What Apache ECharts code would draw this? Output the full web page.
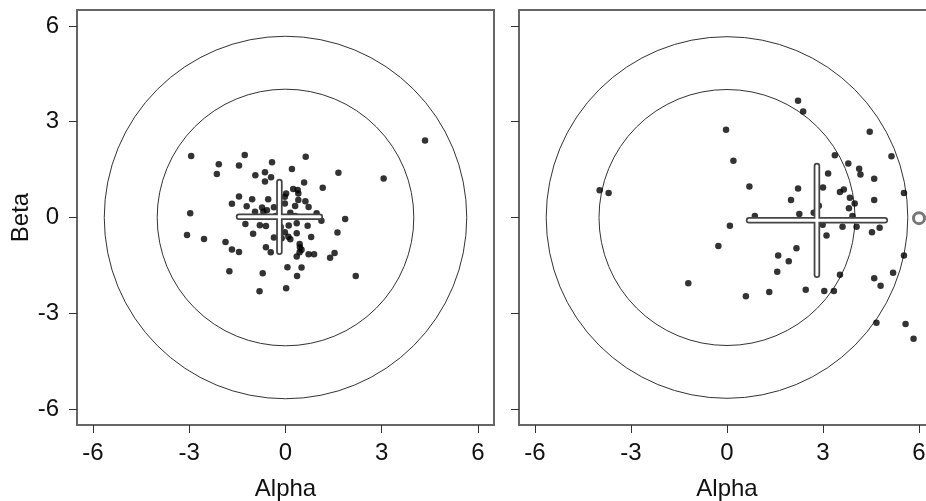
<!DOCTYPE html>
<html>
<head>
<meta charset="utf-8">
<script src="https://cdn.jsdelivr.net/npm/echarts@6/dist/echarts.min.js"></script>
<style>
  html, body { margin: 0; padding: 0; background: #fff; overflow: hidden; }
  #chart { width: 926px; height: 501px; }
</style>
</head>
<body>
<div id="chart"></div>
<script>
// tick labels on both axes
var tickValues = [-6, -3, 0, 3, 6]

// left panel (alpha, beta)
var leftPoints = [
  [-2.94, 1.93], [-1.27, 1.96], [-2.08, 1.67], [-1.45, 1.63], [-2.14, 1.36], [-0.42, 1.73],
  [0.63, 1.90], [0.20, 1.52], [1.65, 1.40], [3.06, 1.22], [-0.64, 1.42], [-0.94, 1.32],
  [-0.45, 1.26], [-0.64, 1.13], [0.58, 1.10], [1.16, 0.93], [0.24, 0.89], [0.38, 0.86],
  [0.40, 0.75], [0.02, 0.75], [-0.02, 0.65], [-1.45, 0.66], [-1.67, 0.43], [-1.04, 0.57],
  [-0.54, 0.57], [-1.21, 0.35], [-0.73, 0.31], [0.62, 0.51], [0.40, 0.55], [0.72, 0.33],
  [0.30, 0.36], [-0.02, 0.44], [-2.97, 0.13], [-0.95, 0.18], [-0.58, 0.23], [-0.69, 0.18],
  [-0.36, 0.32], [0.97, 0.13], [1.12, -0.10], [1.86, -0.05], [-1.25, -0.20], [-0.80, -0.24],
  [-0.61, -0.27], [0.35, -0.18], [0.69, -0.26], [-3.07, -0.55], [-2.54, -0.67], [-1.01, -0.51],
  [-0.02, -0.46], [0.35, -0.49], [0.80, -0.61], [1.62, -0.47], [-1.87, -0.77], [-0.36, -0.63],
  [0.09, -0.60], [-0.12, -0.65], [0.15, -0.68], [0.44, -0.83], [0.45, -0.93], [0.50, -1.01],
  [-1.67, -1.00], [-1.45, -1.08], [-0.61, -0.93], [-0.46, -1.09], [0.44, -1.09], [0.72, -1.15],
  [0.89, -1.15], [0.35, -1.22], [1.39, -1.26], [1.53, -1.11], [-1.75, -1.68], [-0.71, -1.75],
  [0.06, -1.56], [0.50, -1.57], [0.36, -1.83], [2.19, -1.83], [-0.81, -2.31], [0.02, -2.22],
  [4.35, 2.41], [0.15, 0.15], [-0.30, 0.05], [0.30, 0.05], [0.10, -0.25], [-0.15, -0.30]
]

// right panel (alpha, beta)
var rightPoints = [
  [-0.03, 2.75], [0.20, 1.78], [0.70, 0.97], [-3.98, 0.85], [-3.70, 0.77], [0.09, -0.26],
  [-0.27, -0.89], [-1.21, -2.06], [0.59, -2.47], [2.22, 3.66], [2.38, 3.32], [4.46, 2.69],
  [5.14, 1.92], [3.37, 1.95], [3.79, 1.69], [4.13, 1.53], [4.17, 1.35], [3.16, 1.38],
  [4.60, 1.21], [2.22, 0.91], [3.00, 0.94], [3.53, 0.80], [3.65, 0.88], [5.53, 0.77],
  [2.00, 0.55], [3.84, 0.62], [4.60, 0.55], [3.99, 0.44], [3.81, 0.29], [2.87, 0.37],
  [2.26, 0.11], [2.71, 0.15], [3.92, 0.05], [0.87, 0.05], [2.99, -0.23], [3.61, -0.29],
  [4.05, -0.29], [4.77, -0.32], [4.53, -0.46], [3.11, -0.56], [2.17, -0.96], [1.60, -1.19],
  [1.93, -1.37], [5.53, -1.19], [1.57, -1.70], [3.53, -1.79], [5.19, -1.73], [4.60, -1.90],
  [4.80, -2.14], [2.46, -2.26], [3.04, -2.30], [3.34, -2.30], [1.32, -2.33], [4.67, -3.30],
  [5.58, -3.34], [5.83, -3.80]
]

// open marker at the right edge of the right panel
var rightOutlier = [[6.0, -0.02]]

// reference circles (radius)
var circleRadii = [4, 5.65]

// crosses: centre and half lengths [left panel, right panel]
var crossX = [-0.19, 2.81]
var crossY = [0.02, -0.09]
var crossHalfX = [1.26, 2.12]
var crossHalfY = [1.09, 1.70]

var font = 'Liberation Sans, Arial, sans-serif'

function makeAxis(type, gridIndex, showLabel, name) {
  return {
    type: 'value',
    gridIndex: gridIndex,
    min: -6.5,
    max: 6.5,
    name: name,
    nameLocation: 'middle',
    nameGap: type === 'x' ? 52 : 44,
    nameTextStyle: { fontFamily: font, fontSize: 24, color: '#111' },
    splitLine: { show: false },
    axisLine: { show: false, onZero: false },
    axisTick: {
      show: true,
      length: 8,
      customValues: tickValues,
      lineStyle: { color: '#333', width: 1 }
    },
    axisLabel: {
      show: showLabel,
      customValues: tickValues,
      margin: type === 'x' ? 16 : 18,
      fontFamily: font,
      fontSize: 24,
      color: '#111'
    }
  }
}

function circleSeries(idx) {
  return {
    type: 'custom',
    xAxisIndex: idx,
    yAxisIndex: idx,
    silent: true,
    z: 1,
    encode: { x: 0, y: 1 },
    data: circleRadii.map(function(r) { return [0, 0, r] }),
    renderItem: function(params, api) {
      var c = api.coord([api.value(0), api.value(1)])
      var r = api.size([api.value(2), 0])[0]
      return {
        type: 'circle',
        shape: { cx: c[0], cy: c[1], r: r },
        style: { fill: 'none', stroke: '#333', lineWidth: 1 }
      }
    }
  }
}

function crossSeries(idx) {
  return {
    type: 'custom',
    xAxisIndex: idx,
    yAxisIndex: idx,
    silent: true,
    z: 5,
    encode: { x: 0, y: 1 },
    data: [[crossX[idx], crossY[idx], crossHalfX[idx], crossHalfY[idx]]],
    renderItem: function(params, api) {
      var cx = api.value(0)
      var cy = api.value(1)
      var hx = api.value(2)
      var hy = api.value(3)
      var l = api.coord([cx - hx, cy])
      var r = api.coord([cx + hx, cy])
      var t = api.coord([cx, cy + hy])
      var b = api.coord([cx, cy - hy])
      var seg = function(p, q, w, col) {
        return {
          type: 'line',
          shape: { x1: p[0], y1: p[1], x2: q[0], y2: q[1] },
          style: { stroke: col, lineWidth: w, lineCap: 'round' }
        }
      }
      return {
        type: 'group',
        children: [
          seg(l, r, 6.5, '#444'), seg(t, b, 6.5, '#444'),
          seg(l, r, 3, '#fff'), seg(t, b, 3, '#fff')
        ]
      }
    }
  }
}

var chart = echarts.init(document.getElementById('chart'))

var option = {
  animation: false,
  backgroundColor: '#fff',
  grid: [
    {
      left: 77, top: 10, width: 417, height: 415,
      outerBoundsMode: 'none',
      show: true, borderColor: '#666', borderWidth: 2
    },
    {
      left: 519, top: 10, width: 416, height: 415,
      outerBoundsMode: 'none',
      show: true, borderColor: '#666', borderWidth: 2
    }
  ],
  xAxis: [
    makeAxis('x', 0, true, 'Alpha'),
    makeAxis('x', 1, true, 'Alpha')
  ],
  yAxis: [
    makeAxis('y', 0, true, 'Beta'),
    makeAxis('y', 1, false, '')
  ],
  series: [
    circleSeries(0),
    circleSeries(1),
    {
      type: 'scatter',
      xAxisIndex: 0,
      yAxisIndex: 0,
      symbolSize: 6.5,
      z: 3,
      itemStyle: { color: '#000' },
      data: leftPoints
    },
    {
      type: 'scatter',
      xAxisIndex: 1,
      yAxisIndex: 1,
      symbolSize: 6.5,
      z: 3,
      itemStyle: { color: '#000' },
      data: rightPoints
    },
    {
      type: 'scatter',
      xAxisIndex: 1,
      yAxisIndex: 1,
      symbol: 'circle',
      symbolSize: 11,
      z: 4,
      itemStyle: { color: '#fff', borderColor: '#555', borderWidth: 3 },
      data: rightOutlier
    },
    crossSeries(0),
    crossSeries(1)
  ]
}

chart.setOption(option)
</script>
</body>
</html>
